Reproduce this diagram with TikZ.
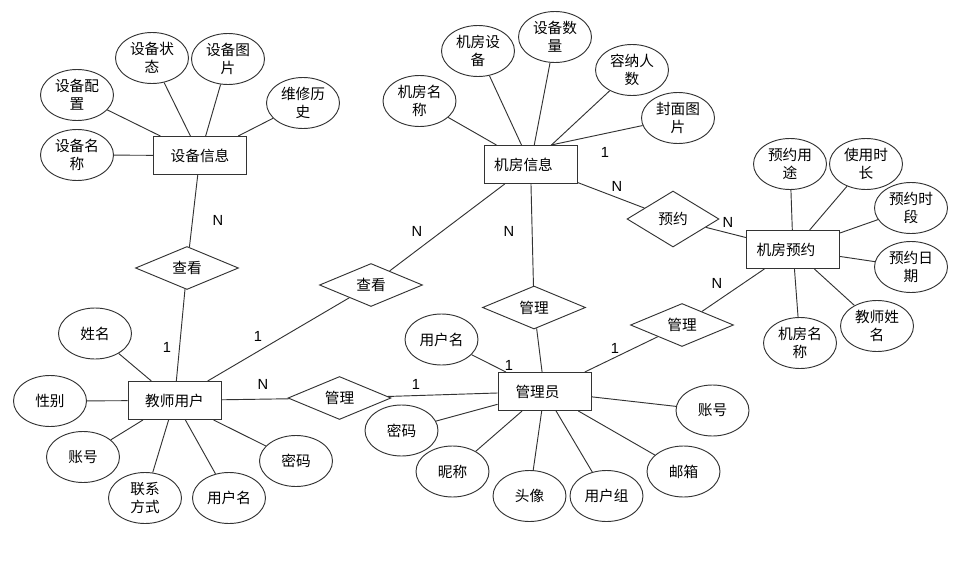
\documentclass[tikz,border=0pt]{standalone}
\usepackage{fontspec}
\setmainfont{Noto Sans CJK SC}
\newfontfamily\latf{Liberation Sans}
\usetikzlibrary{shapes.geometric}
\begin{document}
\begin{tikzpicture}[x=0.75pt,y=-0.75pt,
  every node/.style={font=\fontsize{11}{13.5}\selectfont, text=black},
  attr/.style={ellipse, draw=black!80, line width=0.7pt, minimum width=54.75pt, minimum height=38.25pt, inner sep=0pt, align=center},
  ent/.style={rectangle, draw=black!80, line width=0.7pt, minimum width=69.75pt, minimum height=28.5pt, inner sep=0pt},
  rel/.style={diamond, draw=black!80, line width=0.7pt, minimum width=77.25pt, minimum height=32.25pt, inner sep=0pt},
  card/.style={font=\latf\fontsize{11}{13}\selectfont, inner sep=0pt},
  link/.style={draw=black!80, line width=0.7pt}
]
\useasboundingbox (0,0) rectangle (964,564);
% entities
\node[ent] (sb) at (200,155.5) {设备信息};
\node[ent] (jf) at (530.5,164.5) {机房信息\hspace*{10.5pt}};
\node[ent] (yy) at (793,249.5) {机房预约\hspace*{10.5pt}};
\node[ent] (js) at (174.5,400.5) {教师用户};
\node[ent] (gl) at (544.5,391.5) {管理员\hspace*{10.5pt}};
% relations
\node[rel] (ck1) at (187,268) {查看};
\node[rel] (ck2) at (371,285) {查看};
\node[rel] (glm) at (339.5,398) {管理};
\node[rel] (glc) at (534,307.5) {管理};
\node[rel] (glr) at (682,325) {管理};
\node[rel, minimum width=69pt, minimum height=42pt] (yr) at (673,219) {预约};
% 设备信息 attributes
\node[attr] (s1) at (152,58) {设备状\\态};
\node[attr] (s2) at (228,59) {设备图\\片};
\node[attr] (s3) at (77,95) {设备配\\置};
\node[attr] (s4) at (303,103) {维修历\\史};
\node[attr] (s5) at (77,155) {设备名\\称};
% 机房信息 attributes
\node[attr] (j1) at (419.5,101) {机房名\\称};
\node[attr] (j2) at (478,51) {机房设\\备};
\node[attr] (j3) at (555,37) {设备数\\量};
\node[attr] (j4) at (632,70) {容纳人\\数};
\node[attr] (j5) at (678,118) {封面图\\片};
% 机房预约 attributes
\node[attr] (y1) at (790,164) {预约用\\途};
\node[attr] (y2) at (866,164) {使用时\\长};
\node[attr] (y3) at (911,208) {预约时\\段};
\node[attr] (y4) at (911,267) {预约日\\期};
\node[attr] (y5) at (877,326) {教师姓\\名};
\node[attr] (y6) at (800,343) {机房名\\称};
% 教师用户 attributes
\node[attr] (t1) at (95,333.5) {姓名};
\node[attr] (t2) at (50,401) {性别};
\node[attr] (t3) at (83,457) {账号};
\node[attr] (t4) at (145,498) {联系\\方式};
\node[attr] (t5) at (229,498) {用户名};
\node[attr] (t6) at (296,461) {密码};
% 管理员 attributes
\node[attr] (g1) at (441.5,339.5) {用户名};
\node[attr] (g2) at (401.5,430.5) {密码};
\node[attr] (g3) at (452.5,471.5) {昵称};
\node[attr] (g4) at (529.5,496) {头像};
\node[attr] (g5) at (606.5,496) {用户组};
\node[attr] (g6) at (683.5,471.5) {邮箱};
\node[attr] (g7) at (712.5,410.5) {账号};
% attribute links
\foreach \a in {s1,s2,s3,s4,s5} \draw[link] (\a) -- (sb);
\foreach \a in {j1,j2,j3,j4} \draw[link] (\a) -- (jf);
\draw[link] (j5) -- ([xshift=15.4pt]jf.north);
\foreach \a in {y1,y2,y3,y4,y5,y6} \draw[link] (\a) -- (yy);
\foreach \a in {t1,t2,t3,t4,t5,t6} \draw[link] (\a) -- (js);
\foreach \a in {g1,g2,g3,g4,g5,g6,g7} \draw[link] (\a) -- (gl);
% relation links
\draw[link] (sb) -- (ck1);
\draw[link] (ck1) -- (js);
\draw[link] (js) -- (ck2);
\draw[link] (ck2) -- (jf);
\draw[link] (js) -- (glm);
\draw[link] (glm) -- (gl);
\draw[link] (jf) -- (glc);
\draw[link] (glc) -- (gl);
\draw[link] (gl) -- (glr);
\draw[link] (glr) -- (yy);
\draw[link] (jf) -- (yr);
\draw[link] (yr) -- (yy);
% cardinalities
\node[card] (c1) at (218,220) {N};
\node[card] (c2) at (605,152) {1};
\node[card] (c3) at (617,186) {N};
\node[card] (c4) at (417,231) {N};
\node[card] (c5) at (509,231) {N};
\node[card] (c6) at (728,222) {N};
\node[card] (c7) at (717,283) {N};
\node[card] (c8) at (615,348) {1};
\node[card] (c9) at (167,347) {1};
\node[card] (c10) at (258,336) {1};
\node[card] (c11) at (263,384) {N};
\node[card] (c12) at (416,384) {1};
\node[card] (c13) at (509,365) {1};
\end{tikzpicture}
\end{document}
